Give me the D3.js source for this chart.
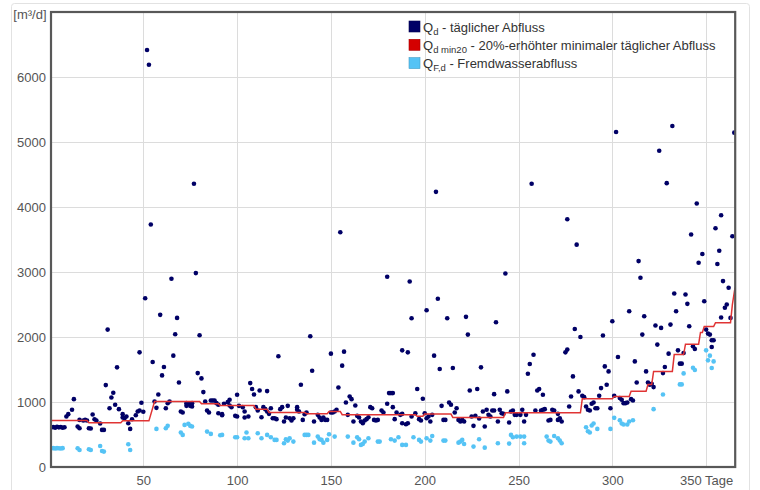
<!DOCTYPE html>
<html>
<head>
<meta charset="utf-8">
<script src="https://cdn.jsdelivr.net/npm/d3@7"></script>
<style>
  html, body { margin: 0; padding: 0; background: #fff; }
  svg { display: block; font-family: "Liberation Sans", Arial, sans-serif; }
</style>
</head>
<body>
<svg id="chart" width="760" height="490"></svg>
<script>
// ---- data ----
const yTickValues = [0, 1000, 2000, 3000, 4000, 5000, 6000];
const xTickValues = [50, 100, 150, 200, 250, 300, 350];
const xTickLabels = ["50", "100", "150", "200", "250", "300", "350 Tage"];
const yUnitLabel = "[m³/d]";

// Q_d - täglicher Abfluss  [day, m³/d]
const qdDays = [1,2,3,4,5,6,7,8,9,10,12,13,15,16,16,18,19,20,21,22,23,24,25,27,28,29,30,31,32,33,34,35,36,37,39,39,40,41,42,43,44,46,47,48,48,49,50,
51,52,53,54,55,56,57,58,59,60,61,62,63,64,65,66,67,68,69,70,71,73,73,74,75,76,76,77,78,79,80,81,82,83,84,85,86,87,88,89,90,92,
90,92,93,95,96,96,97,99,100,100,101,103,104,104,106,107,108,109,110,111,112,113,114,115,116,116,117,118,119,120,121,122,123,124,125,126,127,128,129,130,132,132,133,134,135,136,137,139,140,141,143,144,145,146,147,148,150,150,151,152,153,154,155,156,157,158,159,160,161,162,163,164,165,166,167,168,169,170,171,172,173,174,175,177,178,180,180,181,182,183,183,
184,185,187,188,188,190,191,188,191,192,193,193,195,196,197,198,199,200,201,201,202,203,204,205,206,207,208,209,210,211,212,213,214,215,216,217,218,219,220,220,221,222,223,224,225,226,227,228,229,230,231,232,233,234,235,236,237,237,238,239,240,241,242,243,244,245,246,247,248,249,251,252,253,254,255,256,257,258,259,260,261,262,263,263,264,266,267,268,269,271,271,
272,273,275,276,277,278,279,280,281,282,283,284,285,286,287,288,289,290,291,292,293,294,295,296,297,298,299,300,301,302,303,304,305,306,307,308,309,310,311,312,313,314,315,316,317,318,319,320,321,322,323,324,325,326,327,328,329,330,331,332,333,334,335,336,337,338,339,340,341,342,343,344,345,346,348,349,350,351,352,353,353,354,355,356,357,358,359,360,361,362,363,364,365];
const qdValues = [610,615,605,620,610,615,605,612,777,813,880,1044,622,597,725,715,725,715,597,592,808,735,715,669,571,571,1260,2114,905,1070,1142,957,1533,890,813,761,751,777,674,586,735,797,854,869,1764,988,849,
2597,6415,6188,3730,1615,1008,910,1116,2341,1409,1538,905,982,1008,2896,1713,2042,2294,1301,854,838,982,941,977,941,982,931,4357,2983,1445,2027,1363,1152,1008,869,838,1024,1024,1024,982,828,797,
957,813,972,998,1034,946,921,787,777,1111,941,921,854,761,777,1291,1199,1116,921,869,1178,766,921,890,854,1168,818,905,751,751,736,1703,890,921,700,761,941,751,715,751,880,921,854,1265,725,813,838,2011,1481,700,802,761,725,761,725,725,838,1744,838,854,880,1224,3611,1559,1775,993,802,1085,1044,700,946,787,761,700,674,715,736,766,921,905,725,715,725,869,838,972,2927,1137,1137,921,1137,
736,838,802,818,674,658,674,1795,1764,2855,777,2289,828,1199,736,715,1049,828,751,2412,777,700,802,1713,4233,2588,1507,941,725,725,2289,993,957,1523,838,905,725,700,715,725,700,2310,2037,1178,777,633,787,1199,746,1533,854,622,880,802,777,869,869,1121,2227,700,880,828,818,2978,1163,684,854,869,802,802,802,880,700,802,1435,1584,4357,1728,869,1178,1199,869,1111,880,890,715,725,880,869,818,725,
751,700,1764,1806,931,1085,1394,2124,3421,1163,2001,1096,1075,931,880,869,972,993,905,905,1096,1214,2022,1548,1265,1471,905,2243,1096,5154,1692,1060,1034,982,982,993,2397,1044,1024,1625,1301,3168,2911,2037,2320,1471,1301,1265,1281,1229,2176,1883,4866,2140,1445,1538,4367,1744,2191,5247,2670,2397,1795,1590,1590,1754,2654,2510,2166,3576,1857,1816,4054,3143,3277,2551,2114,2052,2037,1950,1847,1950,3673,3122,3328,3873,2860,2449,2500,2757,2294,3549,5144];
const qdExtraDays = [276, 358];
const qdExtraValues = [3812, 2300];

// Q_d min20 - 20%-erhöhter minimaler täglicher Abfluss  (breakpoints)
const minDays = [1,20,21,38,39,53,56,80,81,90,91,109,110,116,117,136,137,148,149,155,156,195,196,199,200,214,215,242,243,283,284,300,301,309,310,318,319,321,322,332,333,338,339,346,347,348,349,354,355,363,364,365.4];
const minValues = [715,715,680,680,710,710,1008,1008,975,975,945,945,890,890,840,840,820,820,855,855,805,805,780,780,815,815,762,762,835,835,1050,1050,1085,1085,1165,1165,1270,1270,1470,1470,1730,1730,1890,1890,2070,2070,2160,2160,2220,2220,2500,2760];

// Q_F,d - Fremdwasserabfluss
const qfDays = [1,2,3,4,5,6,7,15,16,21,22,27,28,29,42,43,57,62,63,70,71,72,74,75,76,84,86,91,
92,99,100,104,105,106,111,113,116,118,120,121,125,126,127,128,130,136,137,138,141,143,144,145,146,148,149,152,159,162,164,165,166,167,168,170,175,176,182,
184,186,188,190,194,197,198,201,203,204,210,211,218,219,220,221,226,229,232,239,245,246,247,249,251,253,253,265,266,267,269,271,272,273,
286,287,288,289,290,292,299,301,304,305,306,308,309,311,322,327,336,337,338,343,344,350,351,352,353,354];
const qfValues = [288,290,285,290,288,285,290,288,262,273,262,324,247,237,350,262,586,597,633,530,494,648,664,633,622,545,509,489,
494,458,458,442,530,442,520,442,494,458,417,417,365,427,406,442,391,494,494,494,375,468,427,417,375,417,504,468,468,375,458,427,340,355,391,442,391,391,427,
406,458,340,340,458,417,391,442,406,478,406,406,375,391,417,355,314,427,298,365,360,494,458,468,468,468,365,468,406,391,478,442,406,365,
612,550,530,638,669,586,586,756,720,669,654,654,700,720,890,1116,1271,1271,1440,1528,1492,1795,1641,1713,1523,1625];

const legendItems = [
  { base: "Q", sub: "d", rest: " - täglicher Abfluss", color: "#000066" },
  { base: "Q", sub: "d min20", rest: " - 20%-erhöhter minimaler täglicher Abfluss", color: "#d40000" },
  { base: "Q", sub: "F,d", rest: " - Fremdwasserabfluss", color: "#55c3f5" }
];

// ---- drawing ----
const svg = d3.select("#chart");
const plot = { left: 51, right: 735.2, top: 12, bottom: 467 };

const x = d3.scaleLinear().domain([0.8, 365.5]).range([plot.left, plot.right]);
const y = d3.scaleLinear().domain([0, 7000]).range([plot.bottom, plot.top]);

// outer container border
svg.append("rect")
  .attr("x", 11.5).attr("y", 3.5).attr("width", 738).attr("height", 492)
  .attr("rx", 3).attr("fill", "#fff").attr("stroke", "#e2e2e2").attr("stroke-width", 1);

// grid
const grid = svg.append("g").attr("stroke", "#dcdcdc").attr("stroke-width", 1);
grid.selectAll("line.h").data(yTickValues.filter(d => d > 0)).join("line")
  .attr("x1", plot.left).attr("x2", plot.right)
  .attr("y1", d => Math.round(y(d)) + 0.5).attr("y2", d => Math.round(y(d)) + 0.5);
grid.selectAll("line.v").data(xTickValues).join("line")
  .attr("y1", plot.top).attr("y2", plot.bottom)
  .attr("x1", d => Math.round(x(d)) + 0.5).attr("x2", d => Math.round(x(d)) + 0.5);

// axes (labels only)
const yAxis = d3.axisLeft(y).tickValues(yTickValues).tickSize(0).tickPadding(5).tickFormat(d3.format("d"));
const gy = svg.append("g").attr("transform", `translate(${plot.left},0)`).call(yAxis);
gy.select(".domain").remove();
gy.selectAll("text").attr("fill", "#555").style("font-size", "13px").style("font-family", "'Liberation Sans', Arial, sans-serif");

const xAxis = d3.axisBottom(x).tickValues(xTickValues).tickSize(0).tickPadding(9)
  .tickFormat((d, i) => xTickLabels[i]);
const gx = svg.append("g").attr("transform", `translate(0,${plot.bottom})`).call(xAxis);
gx.select(".domain").remove();
gx.selectAll("text").attr("fill", "#555").style("font-size", "13px").style("font-family", "'Liberation Sans', Arial, sans-serif");

svg.append("text").attr("x", 46.5).attr("y", 19).attr("text-anchor", "end")
  .attr("fill", "#555").style("font-size", "13px").text(yUnitLabel);

// data
const qd = qdDays.map((d, i) => [d, qdValues[i]]).concat(qdExtraDays.map((d, i) => [d, qdExtraValues[i]]));
const qf = qfDays.map((d, i) => [d, qfValues[i]]);
const mn = minDays.map((d, i) => [d, minValues[i]]);

const clip = svg.append("clipPath").attr("id", "clip").append("rect")
  .attr("x", plot.left).attr("y", plot.top).attr("width", plot.right - plot.left).attr("height", plot.bottom - plot.top);

const marks = svg.append("g").attr("clip-path", "url(#clip)");
marks.append("g").selectAll("circle").data(qd).join("circle")
  .attr("cx", d => x(d[0])).attr("cy", d => y(d[1])).attr("r", 2.3).attr("fill", "#000066");
marks.append("path").datum(mn)
  .attr("d", d3.line().x(d => x(d[0])).y(d => y(d[1])))
  .attr("fill", "none").attr("stroke", "#e03434").attr("stroke-width", 1.5);
marks.append("g").selectAll("circle").data(qf).join("circle")
  .attr("cx", d => x(d[0])).attr("cy", d => y(d[1])).attr("r", 2.3).attr("fill", "#55c3f5");

// plot frame
svg.append("rect").attr("x", plot.left).attr("y", plot.top)
  .attr("width", plot.right - plot.left).attr("height", plot.bottom - plot.top)
  .attr("fill", "none").attr("stroke", "#585858").attr("stroke-width", 2.2);

// legend
const lg = svg.append("g").attr("transform", "translate(409,21)");
const rows = lg.selectAll("g").data(legendItems).join("g")
  .attr("transform", (d, i) => `translate(0,${i * 18.3})`);
rows.append("rect").attr("width", 11).attr("height", 11).attr("fill", d => d.color)
  .attr("stroke", d => d3.color(d.color).darker(0.6)).attr("stroke-width", 0.6);
const t = rows.append("text").attr("x", 14).attr("y", 10.5).attr("fill", "#333").style("font-size", "13px");
t.append("tspan").text(d => d.base);
t.append("tspan").attr("dy", 3).style("font-size", "9.5px").text(d => d.sub);
t.append("tspan").attr("dy", -3).text(d => d.rest);
</script>
</body>
</html>
